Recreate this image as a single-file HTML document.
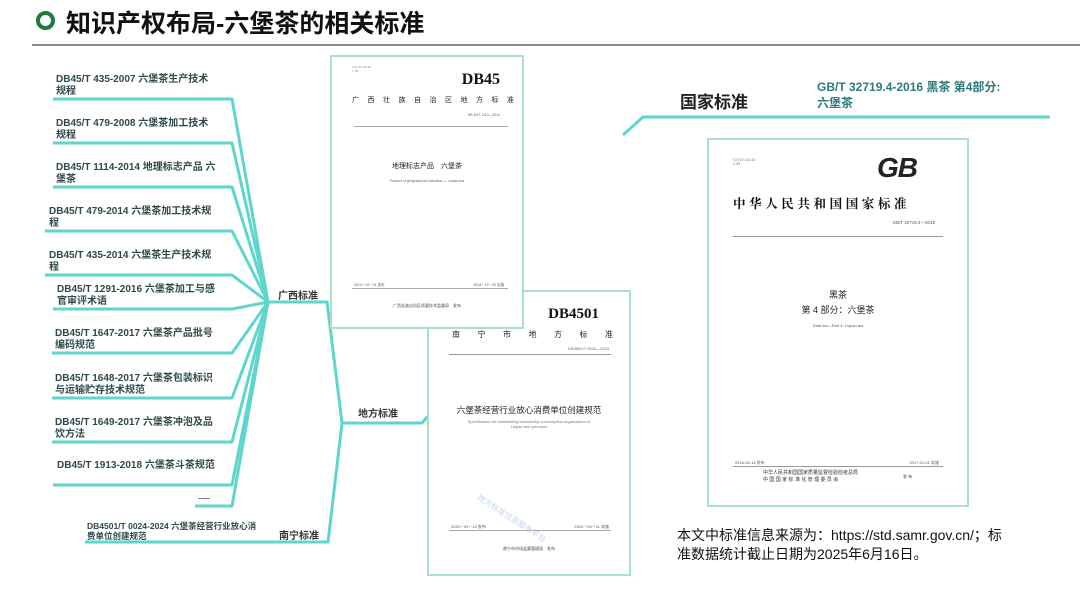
<!DOCTYPE html>
<html><head><meta charset="utf-8"><style>
body{margin:0;width:1080px;height:598px;background:#fff;position:relative;overflow:hidden;font-family:"Liberation Sans","Noto Sans CJK SC",sans-serif}
.a{position:absolute;white-space:nowrap}
.leaf{position:absolute;font-size:10px;font-weight:bold;color:#2e4a4a;line-height:12px}
.doc{position:absolute;background:#fff;border:2px solid #a8e3c6;box-sizing:border-box}
.c{text-align:center;position:absolute;left:0;right:0}
</style></head><body>
<div class="a" style="left:36px;top:11px;width:11px;height:11px;border:4px solid #1f7a3c;border-radius:50%"></div>
<div class="a" style="left:66px;top:4px;font-size:25px;font-weight:bold;color:#111">知识产权布局-六堡茶的相关标准</div>
<div class="a" style="left:32px;top:44px;width:1048px;height:2px;background:#8a8a8a"></div>

<svg class="a" style="left:0;top:0" width="1080" height="598">
<g stroke="#5fd6cd" stroke-width="3" fill="none" stroke-linejoin="round">
<polyline points="53,99 232,99 268,302"/>
<polyline points="53,143 232,143 268,302"/>
<polyline points="53,187 232,187 268,302"/>
<polyline points="45,231 232,231 268,302"/>
<polyline points="45,275 232,275 268,302"/>
<polyline points="53,309 232,309 268,302"/>
<polyline points="52,353 232,353 268,302"/>
<polyline points="52,398 232,398 268,302"/>
<polyline points="52,442 232,442 268,302"/>
<polyline points="53,485 232,485 268,302"/>
<polyline points="195,506 232,506 268,302"/>
<polyline points="268,302 327,302 342,423 422,423 428,416"/>
<polyline points="342,423 328,542 85,542"/>
<polyline points="623,135 643,117 1050,117"/>
</g>
</svg>

<div class="leaf" style="left:56px;top:74px">DB45/T 435-2007 六堡茶生产技术<br>规程</div>
<div class="leaf" style="left:56px;top:118px">DB45/T 479-2008 六堡茶加工技术<br>规程</div>
<div class="leaf" style="left:56px;top:162px">DB45/T 1114-2014 地理标志产品 六<br>堡茶</div>
<div class="leaf" style="left:49px;top:206px">DB45/T 479-2014 六堡茶加工技术规<br>程</div>
<div class="leaf" style="left:49px;top:250px">DB45/T 435-2014 六堡茶生产技术规<br>程</div>
<div class="leaf" style="left:57px;top:284px">DB45/T 1291-2016 六堡茶加工与感<br>官审评术语</div>
<div class="leaf" style="left:55px;top:328px">DB45/T 1647-2017 六堡茶产品批号<br>编码规范</div>
<div class="leaf" style="left:55px;top:373px">DB45/T 1648-2017 六堡茶包装标识<br>与运输贮存技术规范</div>
<div class="leaf" style="left:55px;top:417px">DB45/T 1649-2017 六堡茶冲泡及品<br>饮方法</div>
<div class="leaf" style="left:57px;top:460px">DB45/T 1913-2018 六堡茶斗茶规范</div>
<div class="a" style="left:198px;top:498px;width:12px;height:1px;background:#888"></div>
<div class="leaf" style="left:87px;top:521px;font-size:8.5px;line-height:10px">DB4501/T 0024-2024 六堡茶经营行业放心消<br>费单位创建规范</div>
<div class="a" style="left:278px;top:287px;font-size:10px;font-weight:bold;color:#333">广西标准</div>
<div class="a" style="left:358px;top:405px;font-size:10px;font-weight:bold;color:#333">地方标准</div>
<div class="a" style="left:279px;top:527px;font-size:10px;font-weight:bold;color:#333">南宁标准</div>

<!-- doc 2 (behind) -->
<div class="doc" style="left:427px;top:290px;width:204px;height:286px">
<div class="a" style="right:30px;top:14px;font-size:15px;font-weight:bold;font-family:'Liberation Serif',serif;color:#111">DB4501</div>
<div class="a" style="left:23px;top:37px;font-size:8px;letter-spacing:17.5px;color:#222">南宁市地方标准</div>
<div class="a" style="right:20px;top:54px;font-size:4px;color:#666">DB4501/T 0024—2024</div>
<div class="a" style="left:20px;top:62px;width:162px;height:1px;background:#999"></div>
<div class="c" style="top:112px;font-size:8.5px;color:#222">六堡茶经营行业放心消费单位创建规范</div>
<div class="c" style="top:127px;font-size:4px;color:#777">Specification for establishing trustworthy consumption organization of<br>Liupao tea operators</div>
<div class="a" style="left:52px;top:200px;font-size:8px;color:#c8d4ec;transform:rotate(33deg);transform-origin:0 0">地方标准信息服务平台</div>
<div class="a" style="left:20px;top:238px;width:162px;height:1px;background:#aaa"></div>
<div class="a" style="left:22px;top:232px;font-size:4px;color:#555">2024－03－12 发布</div>
<div class="a" style="right:20px;top:232px;font-size:4px;color:#555">2024－04－11 实施</div>
<div class="c" style="top:254px;font-size:4px;color:#444">南宁市市场监督管理局　发布</div>
</div>

<!-- doc 1 -->
<div class="doc" style="left:330px;top:55px;width:194px;height:274px">
<div class="a" style="left:20px;top:8px;font-size:3px;color:#888">ICS 67.140.10<br>X 55</div>
<div class="a" style="right:22px;top:14px;font-size:16px;font-weight:bold;font-family:'Liberation Serif',serif;color:#111">DB45</div>
<div class="a" style="left:20px;top:38px;font-size:7px;letter-spacing:8.5px;color:#222">广西壮族自治区地方标准</div>
<div class="a" style="right:22px;top:56px;font-size:3.5px;color:#666">DB 45/T 1114—2014</div>
<div class="a" style="left:22px;top:69px;width:154px;height:1px;background:#aaa"></div>
<div class="c" style="top:104px;font-size:7px;color:#222">地理标志产品　六堡茶</div>
<div class="c" style="top:122px;font-size:3.5px;color:#666">Product of geographical indication — Liupao tea</div>
<div class="a" style="left:20px;top:231px;width:156px;height:1px;background:#aaa"></div>
<div class="a" style="left:22px;top:226px;font-size:3.5px;color:#555">2014－12－01 发布</div>
<div class="a" style="right:18px;top:226px;font-size:3.5px;color:#555">2014－12－30 实施</div>
<div class="c" style="top:246px;font-size:4px;color:#444">广西壮族自治区质量技术监督局　发布</div>
</div>

<div class="a" style="left:680px;top:88px;font-size:17px;font-weight:bold;color:#222">国家标准</div>
<div class="a" style="left:817px;top:79px;font-size:12px;font-weight:bold;color:#2d7a78;line-height:16px">GB/T 32719.4-2016 黑茶 第4部分:<br>六堡茶</div>

<!-- doc 3 -->
<div class="doc" style="left:707px;top:138px;width:262px;height:369px">
<div class="a" style="left:24px;top:18px;font-size:3.5px;color:#777">ICS 67.140.10<br>X 55</div>
<div class="a" style="left:168px;top:12px;font-size:28px;font-weight:900;font-style:italic;color:#222;letter-spacing:-1px">GB</div>
<div class="a" style="left:24px;top:54px;font-size:12.5px;letter-spacing:3.6px;color:#111;font-family:'Noto Serif CJK SC',serif;font-weight:bold">中华人民共和国国家标准</div>
<div class="a" style="right:32px;top:80px;font-size:4.5px;color:#555">GB/T 32719.4—2016</div>
<div class="a" style="left:24px;top:96px;width:210px;height:1px;background:#999"></div>
<div class="c" style="top:148px;font-size:9px;color:#222">黑茶</div>
<div class="c" style="top:163px;font-size:9px;color:#222">第 4 部分：六堡茶</div>
<div class="c" style="top:183px;font-size:4px;color:#555">Dark tea—Part 4: Liupao tea</div>
<div class="a" style="left:24px;top:326px;width:210px;height:1px;background:#999"></div>
<div class="a" style="left:26px;top:320px;font-size:4px;color:#555">2016-06-14 发布</div>
<div class="a" style="right:28px;top:320px;font-size:4px;color:#555">2017-01-01 实施</div>
<div class="a" style="left:54px;top:330px;font-size:5px;color:#333;line-height:7px">中华人民共和国国家质量监督检验检疫总局<br>中 国 国 家 标 准 化 管 理 委 员 会</div>
<div class="a" style="left:194px;top:334px;font-size:4px;color:#333">发 布</div>
</div>

<div class="a" style="left:677px;top:526px;font-size:14px;color:#111;line-height:19px">本文中标准信息来源为：https://std.samr.gov.cn/；标<br>准数据统计截止日期为2025年6月16日。</div>
</body></html>
